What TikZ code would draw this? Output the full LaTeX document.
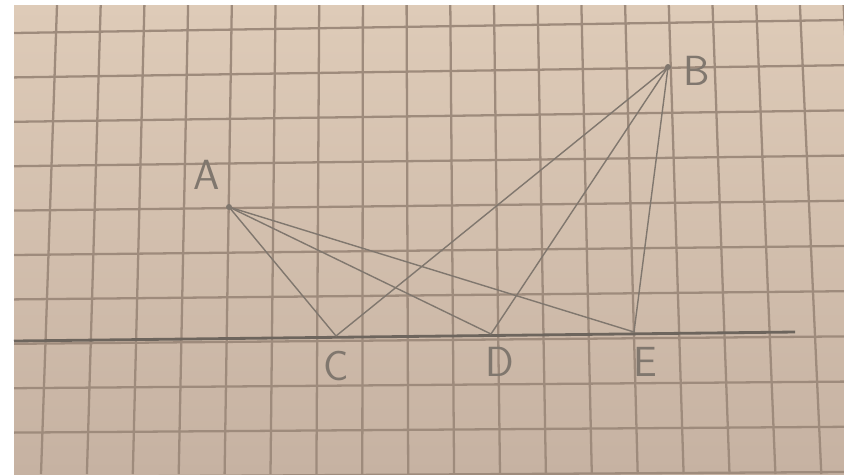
\documentclass[tikz,border=0pt]{standalone}
\usepackage{fontspec}
\definecolor{papertop}{RGB}{222,203,184}
\definecolor{paperbot}{RGB}{198,178,162}
\definecolor{gridgray}{RGB}{158,139,124}
\definecolor{pencil}{RGB}{128,119,110}
\begin{document}
\begin{tikzpicture}[x=0.02cm, y=-0.02cm,
  gridline/.style={draw=gridgray, line width=1.3pt},
  stroke/.style={draw=pencil, line width=0.8pt},
  letter/.style={text=pencil, inner sep=0pt, font=\sffamily\fontsize{24}{24}\selectfont}]
% White margin and the sheet
\useasboundingbox (0,0) rectangle (844,474);
\fill[white] (0,0) rectangle (844,474);
\shade[top color=papertop, bottom color=paperbot] (14,5) rectangle (844,474);
% Squares of the sheet
\begin{scope}
\clip (14,5) rectangle (844,474);
\foreach \i in {0,...,18}
  \draw[gridline] ({57+43.7*\i},5) -- ({41+45.9*\i},474);
\foreach \j in {0,...,10}
  \draw[gridline] (14,{33+44.4*\j}) -- (844,{20+45.2*\j});
\end{scope}
% Points
\coordinate (A) at (229,207);
\coordinate (B) at (668,67);
\coordinate (C) at (336,336);
\coordinate (D) at (491,334);
\coordinate (E) at (634,332);
\coordinate (left) at (14,341);
\coordinate (right) at (795,332);
% Base line
\draw[draw=pencil!85!black, line width=1.6pt] (left) -- (right);
% Lines from A and from B
\foreach \p in {C,D,E} {
  \draw[stroke] (A) -- (\p);
  \draw[stroke] (B) -- (\p);
}
\fill[pencil] (A) circle (3);
\fill[pencil] (B) circle (3);
% Letters
\node[letter] (lA) at (207,175) {A};
\node[letter] (lB) at (697,71) {B};
\node[letter] (lC) at (336,366) {C};
\node[letter] (lD) at (500,362) {D};
\node[letter] (lE) at (645,362) {E};
\end{tikzpicture}
\end{document}
